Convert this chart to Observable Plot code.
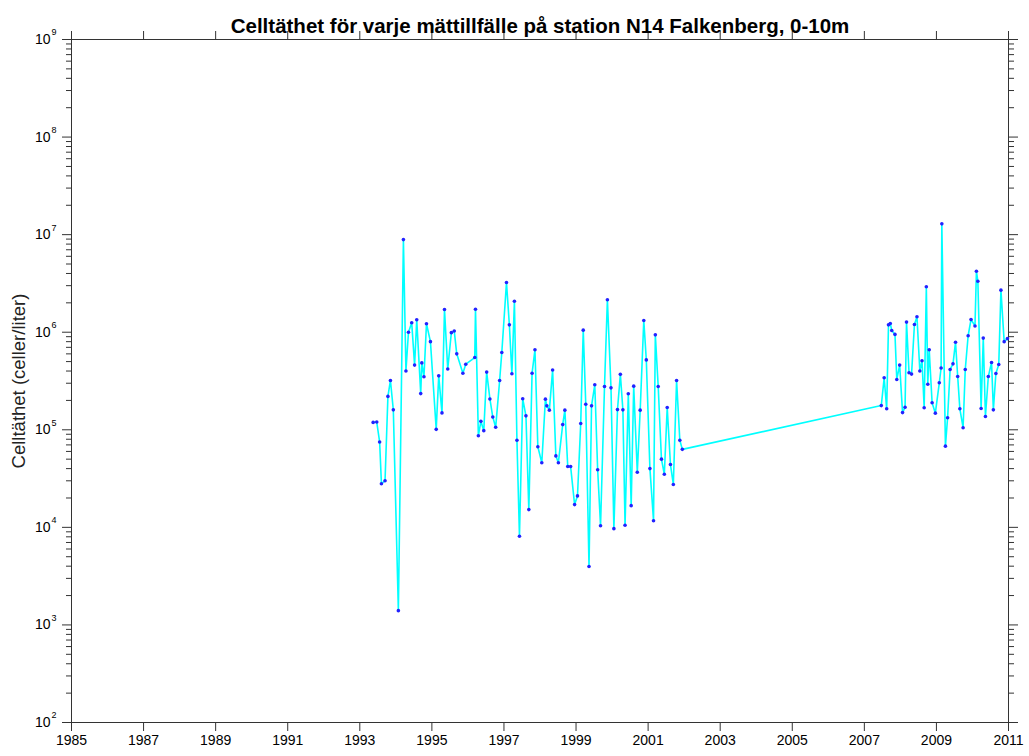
<!DOCTYPE html>
<html><head><meta charset="utf-8">
<script src="https://cdn.jsdelivr.net/npm/d3@7"></script>
<script src="https://cdn.jsdelivr.net/npm/@observablehq/plot@0.6"></script>
<style>body{margin:0;background:#fff;} svg{display:block}</style>
</head><body><div id="chart"></div>
<script>
const titleText = "Celltäthet för varje mättillfälle på station N14 Falkenberg, 0-10m";
const yLabel = "Celltäthet (celler/liter)";

// Sampling dates (decimal years)
const years = [
  1993.37, 1993.47, 1993.55, 1993.60, 1993.70, 1993.78, 1993.85, 1993.93, 1994.07, 1994.21,
  1994.28, 1994.35, 1994.44, 1994.52, 1994.58, 1994.69, 1994.72, 1994.78, 1994.85, 1994.96,
  1995.12, 1995.19, 1995.28, 1995.35, 1995.44, 1995.54, 1995.62, 1995.69, 1995.86, 1995.94,
  1996.19, 1996.21, 1996.29, 1996.36, 1996.44, 1996.52, 1996.61, 1996.69, 1996.77, 1996.88,
  1996.94, 1997.07, 1997.15, 1997.22, 1997.29, 1997.36, 1997.43, 1997.52, 1997.61, 1997.69,
  1997.78, 1997.86, 1997.94, 1998.05, 1998.15, 1998.19, 1998.26, 1998.35, 1998.44, 1998.51,
  1998.63, 1998.69, 1998.77, 1998.85, 1998.96, 1999.04, 1999.13, 1999.20, 1999.27, 1999.36,
  1999.43, 1999.52, 1999.60, 1999.68, 1999.79, 1999.87, 1999.97, 2000.05, 2000.15, 2000.23,
  2000.30, 2000.36, 2000.45, 2000.53, 2000.60, 2000.70, 2000.78, 2000.88, 2000.95, 2001.05,
  2001.15, 2001.20, 2001.28, 2001.37, 2001.45, 2001.53, 2001.62, 2001.70, 2001.79, 2001.88,
  2001.95,
  2007.47, 2007.55, 2007.62, 2007.67, 2007.72, 2007.76, 2007.85, 2007.90, 2007.98, 2008.06,
  2008.13, 2008.17, 2008.24, 2008.31, 2008.39, 2008.46, 2008.54, 2008.60, 2008.66, 2008.72,
  2008.76, 2008.80, 2008.88, 2008.97, 2009.08, 2009.13, 2009.15, 2009.25, 2009.31, 2009.38,
  2009.46, 2009.53, 2009.59, 2009.65, 2009.74, 2009.80, 2009.88, 2009.96, 2010.07, 2010.11,
  2010.15, 2010.24, 2010.30, 2010.36, 2010.44, 2010.53, 2010.58, 2010.65, 2010.73, 2010.79,
  2010.88, 2010.97
];

// Cell density (cells/liter)
const cells = [
  1.19e5, 1.2e5, 7.5e4, 2.8e4, 3.0e4, 2.2e5, 3.2e5, 1.6e5, 1.4e3, 8.9e6,
  4.0e5, 1.0e6, 1.25e6, 4.6e5, 1.34e6, 2.35e5, 4.85e5, 3.5e5, 1.22e6, 8.0e5,
  1.01e5, 3.57e5, 1.49e5, 1.71e6, 4.2e5, 9.9e5, 1.03e6, 6.0e5, 3.8e5, 4.7e5,
  5.5e5, 1.72e6, 8.7e4, 1.22e5, 9.8e4, 3.9e5, 2.07e5, 1.35e5, 1.06e5, 3.2e5,
  6.2e5, 3.23e6, 1.19e6, 3.75e5, 2.08e6, 7.8e4, 8.1e3, 2.08e5, 1.39e5, 1.52e4,
  3.8e5, 6.6e5, 6.7e4, 4.6e4, 2.06e5, 1.76e5, 1.59e5, 4.1e5, 5.4e4, 4.6e4,
  1.13e5, 1.59e5, 4.2e4, 4.2e4, 1.71e4, 2.1e4, 1.16e5, 1.05e6, 1.83e5, 3.97e3,
  1.76e5, 2.89e5, 3.9e4, 1.04e4, 2.78e5, 2.15e6, 2.69e5, 9.7e3, 1.61e5, 3.7e5,
  1.6e5, 1.05e4, 2.34e5, 1.67e4, 2.8e5, 3.67e4, 1.59e5, 1.32e6, 5.2e5, 4.0e4,
  1.17e4, 9.4e5, 2.78e5, 5.0e4, 3.5e4, 1.69e5, 4.4e4, 2.75e4, 3.2e5, 7.8e4,
  6.3e4,
  1.77e5, 3.41e5, 1.64e5, 1.19e6, 1.23e6, 1.04e6, 9.5e5, 3.28e5, 4.6e5, 1.5e5,
  1.7e5, 1.27e6, 3.84e5, 3.72e5, 1.2e6, 1.44e6, 4.0e5, 5.1e5, 1.68e5, 2.92e6,
  2.93e5, 6.6e5, 1.89e5, 1.48e5, 3.03e5, 4.3e5, 1.29e7, 6.8e4, 1.33e5, 4.15e5,
  4.74e5, 7.9e5, 3.52e5, 1.64e5, 1.05e5, 4.15e5, 9.2e5, 1.35e6, 1.16e6, 4.22e6,
  3.33e6, 1.65e5, 8.7e5, 1.37e5, 3.52e5, 4.9e5, 1.6e5, 3.78e5, 4.67e5, 2.7e6,
  8.0e5, 8.6e5
];

const xTicks = [1985,1987,1989,1991,1993,1995,1997,1999,2001,2003,2005,2007,2009,2011];
const yMajor = [1e2,1e3,1e4,1e5,1e6,1e7,1e8,1e9];
const yExp = ["2","3","4","5","6","7","8","9"];
const yMinor = [];
for (let k = 2; k < 9; k++) for (let m = 2; m <= 9; m++) yMinor.push(m * Math.pow(10, k));

const data = years.map((t, i) => ({t, v: cells[i]}));
const ink = "#333";
const empty = () => "";

const plot = Plot.plot({
  width: 1029, height: 756,
  marginLeft: 71, marginRight: 21, marginTop: 39, marginBottom: 34,
  style: {fontFamily: "'Liberation Sans', Arial, sans-serif", background: "#fff", color: "#000"},
  x: {type: "linear", domain: [1985, 2011]},
  y: {type: "log", domain: [1e2, 1e9]},
  marks: [
    Plot.axisX(xTicks, {anchor: "bottom", tickSize: 9, tickFormat: empty, label: null, color: ink}),
    Plot.axisX(xTicks, {anchor: "top", tickSize: 9, tickFormat: empty, label: null, color: ink}),
    Plot.axisY(yMajor, {anchor: "left", tickSize: 9, tickFormat: empty, label: null, color: ink}),
    Plot.axisY(yMinor, {anchor: "left", tickSize: 5, tickFormat: empty, label: null, color: ink}),
    Plot.axisY(yMajor, {anchor: "right", tickSize: 9, tickFormat: empty, label: null, color: ink}),
    Plot.axisY(yMinor, {anchor: "right", tickSize: 5, tickFormat: empty, label: null, color: ink}),
    Plot.frame({stroke: ink}),
    Plot.text(xTicks, {x: d => d, frameAnchor: "bottom", dy: 22, text: d => String(d), fontSize: 14, fill: "#000"}),
    Plot.text(yMajor, {y: d => d, frameAnchor: "left", dx: -21, textAnchor: "end", text: () => "10", fontSize: 14, fill: "#000"}),
    Plot.text(yMajor, {y: d => d, frameAnchor: "left", dx: -20, dy: -7, textAnchor: "start", text: (d, i) => yExp[i], fontSize: 9, fill: "#000"}),
    Plot.line(data, {x: "t", y: "v", stroke: "#00ffff", strokeWidth: 1.6}),
    Plot.dot(data, {x: "t", y: "v", r: 1.8, fill: "#2222ff", stroke: "none"}),
    Plot.text([yLabel], {frameAnchor: "left", dx: -52, rotate: -90, textAnchor: "middle", fontSize: 18.5, fill: "#222"}),
    Plot.text([titleText], {frameAnchor: "top", dy: -21, textAnchor: "middle", fontSize: 20.5, fontWeight: "bold", fill: "#000"})
  ]
});
document.getElementById("chart").appendChild(plot);
</script>
</body></html>
